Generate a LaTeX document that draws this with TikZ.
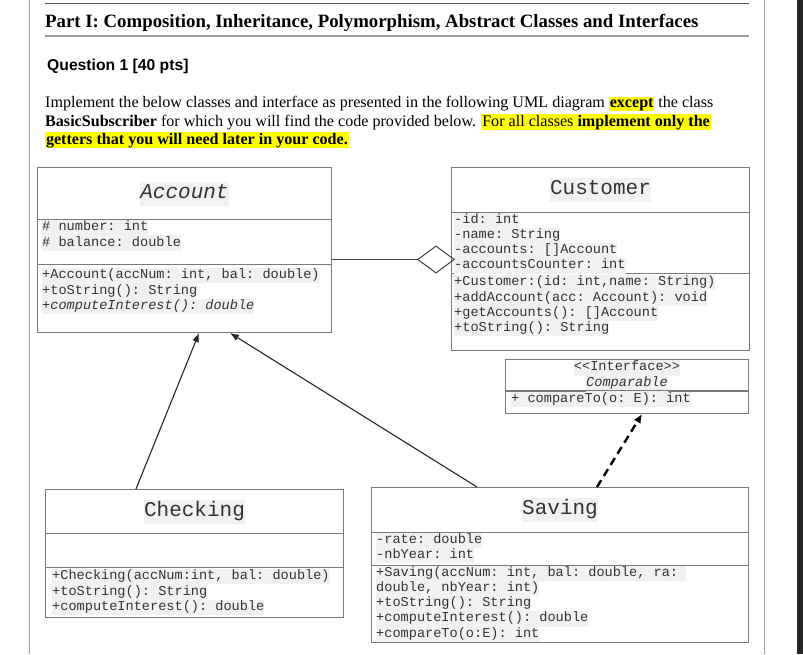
\documentclass[tikz,border=0pt]{standalone}
\usepackage{fontspec}
\setmainfont{Liberation Serif}
\setsansfont{Liberation Sans}
\setmonofont{Liberation Mono}
\usepackage{xcolor}
\usetikzlibrary{arrows.meta, positioning}
\definecolor{boxline}{HTML}{7A7A7A}
\definecolor{pageline}{HTML}{A0A0A0}
\definecolor{codebg}{HTML}{F1F1F1}
\definecolor{codetext}{HTML}{333333}
\definecolor{marker}{HTML}{FFFF00}
\definecolor{darkedge}{HTML}{262626}
\newcommand{\cb}[1]{{\setlength{\fboxsep}{0pt}\colorbox{codebg}{\strut #1}}}
\newcommand{\hly}[1]{{\setlength{\fboxsep}{0.8pt}\colorbox{marker}{#1}}}

\begin{document}
\begin{tikzpicture}[x=1pt, y=-1pt,
    compart/.style={draw=boxline, line width=1pt, anchor=north west, inner sep=0pt},
    ctitle/.style={font=\ttfamily\fontsize{21}{24}\selectfont, text=codetext},
    members/.style={anchor=north west, align=left, inner sep=0pt, text=codetext,
      font=\ttfamily\fontsize{13.6}{15.2}\selectfont},
    inh/.style={-{Latex[length=9pt,width=7pt]}, line width=1.1pt, draw=black!85},
    impl/.style={-{Latex[length=9pt,width=8pt]}, line width=2.4pt, dash pattern=on 8pt off 5pt},
    aggr/.style={-{Diamond[open, length=38pt, width=28pt]}, line width=1pt, draw=black!75, shorten >=-4pt}]
  \useasboundingbox (0,0) rectangle (803,654);

  % page frame
  \draw[pageline, line width=1pt] (29,0) -- (29,654);
  \draw[pageline, line width=1pt] (764,0) -- (764,654);
  \fill[darkedge] (797,0) rectangle (803,654);
  \draw[black!65, line width=1pt] (45,3) -- (749,3);
  \draw[pageline, line width=2pt] (45,36) -- (749,36);

  % heading and question text
  \node[anchor=base west, inner sep=0pt, font=\bfseries\fontsize{18.8}{22}\selectfont] (parthead) at (45,27)
    {Part I: Composition, Inheritance, Polymorphism, Abstract Classes and Interfaces};
  \node[anchor=base west, inner sep=0pt, font=\sffamily\bfseries\fontsize{15.7}{18}\selectfont] (question) at (47,70)
    {Question 1 [40 pts]};
  \node[anchor=base west, inner sep=0pt, font=\fontsize{16.1}{18.5}\selectfont] (line1) at (45,107)
    {Implement the below classes and interface as presented in the following UML diagram \hly{\textbf{except}} the class};
  \node[anchor=base west, inner sep=0pt, font=\fontsize{16.1}{18.5}\selectfont] (line2) at (45,126)
    {\textbf{BasicSubscriber} for which you will find the code provided below. \hly{For all classes \textbf{implement only the}}};
  \node[anchor=base west, inner sep=0pt, font=\fontsize{16.1}{18.5}\selectfont] (line3) at (45,144)
    {\hly{\textbf{getters that you will need later in your code.}}};

  % Account
  \node[compart, ctitle, minimum width=294, minimum height=52] (acct) at (37,167) {\cb{\itshape Account}};
  \node[compart, minimum width=294, minimum height=45] (acct-attr) at (37,219) {};
  \node[compart, minimum width=294, minimum height=68] (acct-ops) at (37,264) {};
  \node[members] (acct-attr-txt) at (42,220) {\cb{\# number: int}\\\cb{\# balance: double}};
  \node[members] (acct-ops-txt) at (42,268)
    {\cb{+Account(accNum: int, bal: double)}\\\cb{+toString(): String}\\\cb{\itshape +computeInterest(): double}};

  % Customer
  \node[compart, ctitle, minimum width=298, minimum height=45] (cust) at (451,167) {\cb{Customer}};
  \node[compart, minimum width=298, minimum height=61] (cust-attr) at (451,212) {};
  \node[compart, minimum width=298, minimum height=77] (cust-ops) at (451,273) {};
  \node[members] (cust-attr-txt) at (454,212.5)
    {\cb{-id: int}\\\cb{-name: String}\\\cb{-accounts: []Account}\\\cb{-accountsCounter: int}};
  \node[members] (cust-ops-txt) at (454,275)
    {\cb{+Customer:(id: int,name: String)}\\\cb{+addAccount(acc: Account): void}\\\cb{+getAccounts(): []Account}\\\cb{+toString(): String}};

  % Comparable
  \node[compart, minimum width=243, minimum height=31, align=center, text=codetext,
    font=\ttfamily\fontsize{13.6}{16}\selectfont] (cmp) at (505,359)
    {\cb{<{}<Interface>{}>}\\\cb{\itshape Comparable}};
  \node[compart, minimum width=243, minimum height=23] (cmp-ops) at (505,390) {};
  \node[members] (cmp-ops-txt) at (511,392) {\cb{+ compareTo(o: E): int}};

  % Checking
  \node[compart, ctitle, minimum width=298, minimum height=44] (chk) at (45,489) {\cb{Checking}};
  \node[compart, minimum width=298, minimum height=34] (chk-attr) at (45,533) {};
  \node[compart, minimum width=298, minimum height=50] (chk-ops) at (45,567) {};
  \node[members] (chk-ops-txt) at (52,569)
    {\cb{+Checking(accNum:int, bal: double)}\\\cb{+toString(): String}\\\cb{+computeInterest(): double}};

  % Saving
  \node[compart, ctitle, minimum width=377, minimum height=45] (sav) at (371,487) {\cb{Saving}};
  \node[compart, minimum width=377, minimum height=33] (sav-attr) at (371,532) {};
  \node[compart, minimum width=377, minimum height=77] (sav-ops) at (371,565) {};
  \node[members] (sav-attr-txt) at (376,532.5) {\cb{-rate: double}\\\cb{-nbYear: int}};
  \node[members] (sav-ops-txt) at (376,565.5)
    {\cb{+Saving(accNum: int, bal: double, ra: }\\\cb{double, nbYear: int)}\\\cb{+toString(): String}\\\cb{+computeInterest(): double}\\\cb{+compareTo(o:E): int}};

  % relations
  \draw[aggr] ([yshift=-17.5pt]acct-attr.east) -- ([yshift=-16.5pt]cust-attr.west);
  \draw[inh] ([xshift=91pt]chk.north west) -- ([xshift=162pt]acct-ops.south west);
  \draw[inh] ([xshift=106pt]sav.north west) -- ([xshift=193pt]acct-ops.south west);
  \draw[impl] ([xshift=226pt]sav.north west) -- ([xshift=137pt]cmp-ops.south west);
\end{tikzpicture}
\end{document}
